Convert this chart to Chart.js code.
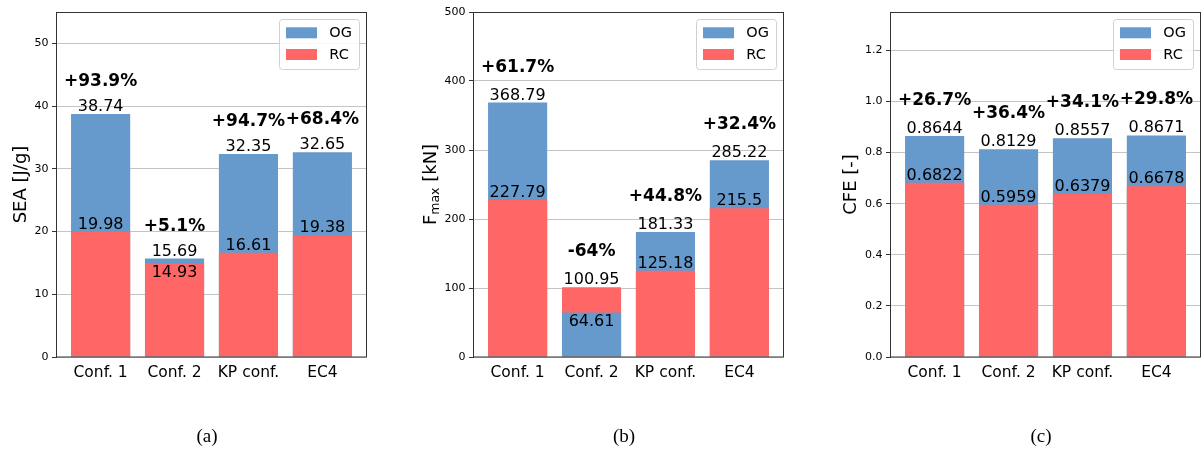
<!DOCTYPE html>
<html>
<head>
<meta charset="utf-8">
<script src="https://cdn.jsdelivr.net/npm/chart.js@4.4.0/dist/chart.umd.min.js"></script>
<style>
  html, body { margin: 0; padding: 0; background: #ffffff; }
  #wrap { position: relative; width: 1202px; height: 450px; overflow: hidden; }
  canvas { position: absolute; top: 0; }
</style>
</head>
<body>
<div id="wrap">
  <canvas id="sea" width="400" height="450" style="left:0px"></canvas>
  <canvas id="fmax" width="400" height="450" style="left:400px"></canvas>
  <canvas id="cfe" width="402" height="450" style="left:800px"></canvas>
</div>
<script>
// Configurations compared in every panel
const configurations = ['Conf. 1', 'Conf. 2', 'KP conf.', 'EC4'];
const seriesNames = ['OG', 'RC'];

// (a) specific energy absorption [J/g]
const seaOG = [38.74, 15.69, 32.35, 32.65];
const seaRC = [19.98, 14.93, 16.61, 19.38];
const seaChange = [93.9, 5.1, 94.7, 68.4];
const seaTicks = [0, 10, 20, 30, 40, 50];

// (b) peak force [kN]
const fmaxOG = [368.79, 64.61, 181.33, 285.22];
const fmaxRC = [227.79, 100.95, 125.18, 215.5];
const fmaxChange = [61.7, -64, 44.8, 32.4];
const fmaxTicks = [0, 100, 200, 300, 400, 500];

// (c) crush force efficiency [-]
const cfeOG = [0.8644, 0.8129, 0.8557, 0.8671];
const cfeRC = [0.6822, 0.5959, 0.6379, 0.6678];
const cfeChange = [26.7, 36.4, 34.1, 29.8];
const cfeTicks = [0, 0.2, 0.4, 0.6, 0.8, 1.0, 1.2];

const OG_COLOR = '#6699cc';
const RC_COLOR = '#ff6666';
const FONT = '"DejaVu Sans", sans-serif';

Chart.defaults.font.family = FONT;
Chart.defaults.color = '#000000';

const panels = [
  { id: 'sea',  og: seaOG,  rc: seaRC,  change: seaChange,  ticks: seaTicks,  yMax: 55,   decimals: 0,
    title: [['SEA [J/g]', 0]], caption: '(a)', plotLeft: 57, plotRight: 366, pctGap: 25 },
  { id: 'fmax', og: fmaxOG, rc: fmaxRC, change: fmaxChange, ticks: fmaxTicks, yMax: 500,  decimals: 0,
    title: [['F', 0], ['max', 1], [' [kN]', 0]], caption: '(b)', plotLeft: 74, plotRight: 383, pctGap: 28 },
  { id: 'cfe',  og: cfeOG,  rc: cfeRC,  change: cfeChange,  ticks: cfeTicks,  yMax: 1.35, decimals: 1,
    title: [['CFE [-]', 0]], caption: '(c)', plotLeft: 91, plotRight: 400, pctGap: 28 }
];

const PLOT_TOP = 12;
const XAXIS_HEIGHT = 93;

// Annotations: value labels, change labels, frame, legend, axis title, caption
const annotate = {
  id: 'annotate',
  afterDatasetsDraw(chart) {
    const p = chart.options.plugins.annotate.panel;
    const ctx = chart.ctx;
    const xs = chart.scales.x, ys = chart.scales.y;
    ctx.save();
    ctx.fillStyle = '#000000';
    ctx.textAlign = 'center';
    ctx.textBaseline = 'alphabetic';
    p.og.forEach((og, i) => {
      const rc = p.rc[i];
      const hi = Math.max(og, rc), lo = Math.min(og, rc);
      const x = xs.getPixelForValue(i);
      const hiTop = ys.getPixelForValue(hi);
      const loTop = ys.getPixelForValue(lo);
      ctx.font = '16px ' + FONT;
      const hiBase = hiTop - 3;
      ctx.fillText(String(hi), x, hiBase);
      const inside = p.change[i] < 10;
      ctx.fillText(String(lo), x, inside ? loTop + 13.6 : loTop - 3);
      ctx.font = 'bold 17px ' + FONT;
      const c = p.change[i];
      ctx.fillText((c > 0 ? '+' : '') + c + '%', x, hiBase - p.pctGap);
    });
    ctx.restore();
  },
  afterDraw(chart) {
    const p = chart.options.plugins.annotate.panel;
    const ctx = chart.ctx;
    const a = chart.chartArea;
    ctx.save();
    // axes frame
    ctx.strokeStyle = '#333333';
    ctx.lineWidth = 1;
    ctx.strokeRect(Math.round(a.left) - 0.5, Math.round(a.top) + 0.5,
                   Math.round(a.right) - Math.round(a.left) + 1, Math.round(a.bottom) - Math.round(a.top) - 0.5);

    // legend
    const lx = a.right - 87, ly = a.top + 7, lw = 80, lh = 50;
    ctx.beginPath();
    ctx.roundRect(lx + 0.5, ly + 0.5, lw, lh, 3);
    ctx.fillStyle = 'rgba(255,255,255,0.85)';
    ctx.fill();
    ctx.strokeStyle = '#d0d0d0';
    ctx.stroke();
    const swatches = [OG_COLOR, RC_COLOR];
    const rowY = [ly + 8.3, ly + 30];
    ctx.font = '14.5px ' + FONT;
    ctx.textAlign = 'left';
    ctx.textBaseline = 'middle';
    seriesNames.forEach((name, k) => {
      ctx.fillStyle = swatches[k];
      ctx.fillRect(a.right - 80, rowY[k], 31, 11);
      ctx.fillStyle = '#000000';
      ctx.fillText(name, a.right - 36.7, rowY[k] + 6);
    });

    // y-axis title (rotated), with optional subscript parts
    ctx.font = '11px ' + FONT;
    const tickW = Math.max(...p.ticks.map(t => ctx.measureText(t.toFixed(p.decimals)).width));
    const baseX = a.left - tickW - 17.5;
    const midY = (a.top + a.bottom) / 2;
    const parts = p.title.map(([txt, sub]) => {
      ctx.font = (sub ? '12.5px ' : '18px ') + FONT;
      return { txt, sub, w: ctx.measureText(txt).width };
    });
    const total = parts.reduce((s, q) => s + q.w, 0);
    ctx.translate(baseX, midY);
    ctx.rotate(-Math.PI / 2);
    ctx.textAlign = 'left';
    ctx.textBaseline = 'alphabetic';
    ctx.fillStyle = '#000000';
    let cx = -total / 2;
    parts.forEach(q => {
      ctx.font = (q.sub ? '12.5px ' : '18px ') + FONT;
      ctx.fillText(q.txt, cx, q.sub ? 3 : 0);
      cx += q.w;
    });
    ctx.setTransform(1, 0, 0, 1, 0, 0);

    // caption
    ctx.font = '19px "Liberation Serif", "DejaVu Serif", serif';
    ctx.textAlign = 'center';
    ctx.textBaseline = 'middle';
    ctx.fillText(p.caption, (a.left + a.right) / 2 - 4.5, 437);
    ctx.restore();
  }
};

panels.forEach(p => {
  const canvas = document.getElementById(p.id);
  const hi = p.og.map((v, i) => Math.max(v, p.rc[i]));
  const lo = p.og.map((v, i) => Math.min(v, p.rc[i]));
  const hiColors = p.og.map((v, i) => (v >= p.rc[i] ? OG_COLOR : RC_COLOR));
  const loColors = p.og.map((v, i) => (v >= p.rc[i] ? RC_COLOR : OG_COLOR));

  new Chart(canvas, {
    type: 'bar',
    data: {
      datasets: [
        { label: 'front', order: 0, data: lo.map((v, i) => ({ x: i, y: v })), backgroundColor: loColors },
        { label: 'back',  order: 1, data: hi.map((v, i) => ({ x: i, y: v })), backgroundColor: hiColors }
      ]
    },
    options: {
      responsive: false,
      animation: false,
      events: [],
      grouped: false,
      categoryPercentage: 1.0,
      barPercentage: 0.8,
      layout: { padding: { left: 0, top: PLOT_TOP, right: canvas.width - p.plotRight, bottom: 0 } },
      plugins: {
        legend: { display: false },
        tooltip: { enabled: false },
        annotate: { panel: p }
      },
      scales: {
        x: {
          type: 'linear',
          min: -0.59,
          max: 3.59,
          offset: false,
          grid: { display: false, drawTicks: false, offset: false },
          border: { display: false },
          afterBuildTicks: s => { s.ticks = configurations.map((c, i) => ({ value: i })); },
          afterFit: s => { s.height = XAXIS_HEIGHT; },
          ticks: {
            autoSkip: false,
            maxRotation: 0,
            padding: 7,
            font: { size: 15.5 },
            color: '#000000',
            callback: v => configurations[v]
          }
        },
        y: {
          min: 0,
          max: p.yMax,
          grid: { color: '#c4c4c4', lineWidth: 1, tickLength: 5, tickColor: '#333333' },
          border: { display: false },
          afterBuildTicks: s => { s.ticks = p.ticks.map(v => ({ value: v })); },
          afterFit: s => { s.width = p.plotLeft; },
          ticks: {
            padding: 3.5,
            font: { size: 11 },
            color: '#000000',
            callback: v => Number(v).toFixed(p.decimals)
          }
        }
      }
    },
    plugins: [annotate]
  });
});
</script>
</body>
</html>
